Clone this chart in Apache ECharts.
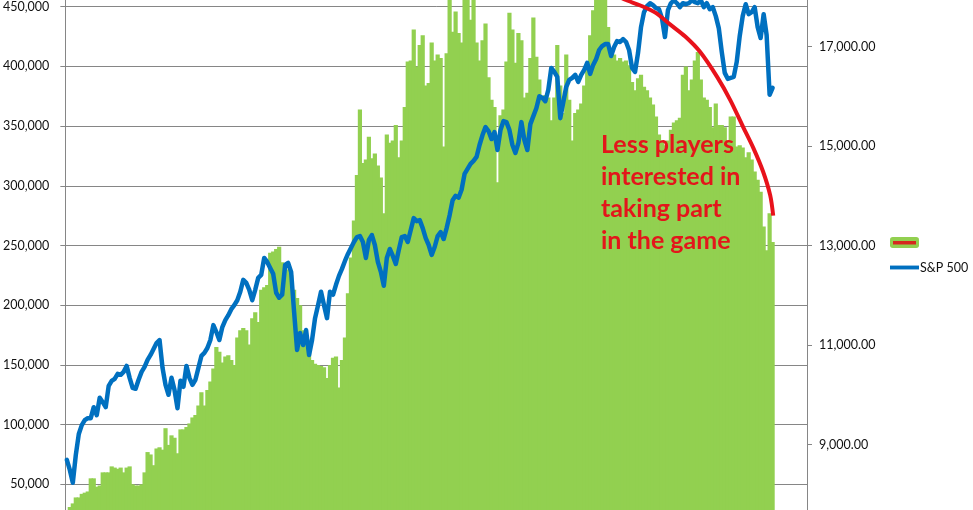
<!DOCTYPE html>
<html>
<head>
<meta charset="utf-8">
<script src="https://cdn.jsdelivr.net/npm/echarts@6/dist/echarts.min.js"></script>
<style>
html,body{margin:0;padding:0;background:#fff;overflow:hidden;width:973px;height:510px;}
#chart{position:absolute;left:0;top:-60px;width:973px;height:650px;}
</style>
</head>
<body>
<div id="chart"></div>
<script>
// weekly categories (axis labels fall below the visible area)
const categories = Array.from({length: 248}, (_, i) => 'Week ' + (i + 1));

// number of players per week (left axis)
const players = [
  24000,31000,34000,39000,39000,42000,43000,44000,55000,55000,
  48000,49000,60000,60000,60000,65000,64000,63000,64000,60000,
  64000,65000,50000,49000,49000,50000,60000,77000,75000,66000,
  80000,81000,79000,97000,83000,91000,89000,76000,96000,96000,
  98000,101000,106000,108000,116000,127000,116000,129000,136000,147000,
  165000,161000,152000,157000,158000,154000,150000,173000,179000,181000,
  179000,167000,189000,194000,186000,213000,215000,217000,244000,245000,
  247000,249000,236000,232000,230000,225000,213000,206000,200000,179000,
  173000,161000,154000,151000,150000,149000,148000,139000,150000,156000,
  157000,131000,154000,173000,210000,240000,271000,309000,364000,319000,
  322000,341000,323000,327000,317000,307000,277000,343000,336000,338000,
  351000,324000,338000,366000,404000,405000,431000,400000,418000,426000,
  384000,386000,420000,405000,410000,407000,333000,411000,460000,429000,
  446000,428000,420000,460000,456000,439000,458000,420000,405000,422000,
  436000,391000,372000,366000,303000,359000,364000,404000,445000,431000,
  403000,428000,422000,374000,378000,407000,441000,408000,389000,374000,
  376000,374000,355000,374000,418000,384000,361000,410000,372000,338000,
  361000,364000,369000,384000,400000,426000,447000,460000,460000,460000,
  456000,433000,414000,410000,405000,407000,404000,405000,401000,387000,
  380000,390000,393000,383000,380000,374000,368000,358000,343000,338000,
  334000,338000,347000,353000,355000,357000,393000,400000,380000,389000,
  405000,412000,389000,374000,372000,366000,349000,369000,351000,351000,
  349000,338000,358000,358000,333000,334000,332000,324000,328000,322000,
  312000,305000,295000,266000,246000,277000,253000
];

// S&P 500 series (right axis)
const sp500 = [
  8690,8490,8230,8790,9210,9390,9490,9530,9530,9750,
  9590,9940,9850,9750,10180,10280,10320,10420,10400,10460,
  10580,10340,10140,10120,10300,10460,10560,10700,10800,10920,
  11040,11100,10540,10200,10000,10340,10100,9730,10280,10160,
  10580,10340,10200,10300,10540,10780,10840,10940,11100,11400,
  11260,11100,11360,11500,11600,11720,11800,11900,12070,12310,
  12250,12110,11900,12110,12350,12410,12750,12670,12550,12430,
  12050,11950,12010,12610,12650,12470,11660,10900,11240,11000,
  11300,10800,11100,11540,11800,12070,11800,11540,12070,12010,
  12210,12390,12530,12690,12830,12950,13070,13170,13190,13070,
  12750,13110,13210,13010,12670,12470,12190,12750,12930,12790,
  12630,12910,13170,13190,13070,13310,13550,13490,13510,13350,
  13150,13010,12810,12970,13190,13270,13130,13350,13610,13910,
  14000,13960,14120,14440,14540,14640,14700,14780,15020,15220,
  15380,15300,15140,15280,14920,15320,15500,15480,15320,15020,
  14860,15060,15480,15120,14920,15440,15600,15760,16000,15970,
  15900,16130,16570,16490,16390,15560,15880,16190,16330,16370,
  16430,16290,16430,16530,16670,16450,16630,16750,16930,17010,
  17050,17050,16810,16990,17110,17090,17150,17090,16930,16570,
  16490,16870,17390,17690,17810,17870,17830,17770,17750,17570,
  17190,17730,17870,17930,17870,17790,17870,17850,17870,17930,
  17890,17870,17930,17790,17870,17750,17790,17610,17370,16890,
  16470,16350,16370,16390,16690,17210,17610,17850,17650,17690,
  17790,17390,17170,17650,17230,16030,16170
];

// red hand-drawn trend arc (position along weeks, players scale)
const curveWeek = [183, 187, 192.3, 197.3, 202.3, 207.3, 212.3, 218, 222.3, 226.7, 230, 233.3, 235.7, 236.7];
const curveValue = [461000, 456000, 451000, 445000, 435000, 425000, 412000, 391000, 372000, 349000, 332000, 312000, 292000, 275000];

// tick labels
const leftTicks = {min: 0, max: 500000, interval: 50000};
const rightTickValues = [9000, 11000, 13000, 15000, 17000];

const annotation = 'Less players\ninterested in\ntaking part\nin the game';

const chart = echarts.init(document.getElementById('chart'), null, {renderer: 'canvas'});
const FONT = 'Lato, "Open Sans", sans-serif';
const gray = '#868686';
const OFF = 60; // the chart canvas starts 60px above the visible page

chart.setOption({
  animation: false,
  backgroundColor: '#fff',
  textStyle: {fontFamily: FONT},
  grid: {left: 63, right: 166, top: OFF - 53, bottom: 46, containLabel: false},
  legend: [
    {
      data: [{name: 'Players', icon: 'roundRect'}],
      left: 890, top: OFF + 237, itemWidth: 29, itemHeight: 11, padding: 0,
      formatter: () => '',
      selectedMode: false,
      textStyle: {fontSize: 12, color: '#000'}
    },
    {
      data: [{name: 'S&P 500', icon: 'path://M0,0 L30,0 L30,4 L0,4 Z'}],
      left: 890, top: OFF + 261, itemWidth: 29, itemHeight: 4, itemGap: 0, padding: 0,
      selectedMode: false,
      textStyle: {fontSize: 12.5, color: '#111', padding: [0, 0, 0, -4]}
    }
  ],
  xAxis: [
    {
      type: 'category', data: categories, boundaryGap: true,
      axisLine: {show: false}, axisTick: {show: false}, axisLabel: {show: false}
    },
    {
      type: 'value', min: 0, max: categories.length, show: false
    }
  ],
  yAxis: [
    {
      type: 'value', min: leftTicks.min, max: leftTicks.max, interval: leftTicks.interval,
      position: 'left',
      axisLine: {show: true, lineStyle: {color: gray, width: 1}},
      axisTick: {show: true, inside: false, length: 5, lineStyle: {color: gray}},
      splitLine: {show: true, lineStyle: {color: gray, width: 1}},
      axisLabel: {
        margin: 16, color: '#111', fontSize: 12.5, fontFamily: FONT,
        formatter: v => v.toLocaleString('en-US')
      }
    },
    {
      type: 'value', min: 7000, max: 19000, position: 'right',
      axisLine: {show: true, lineStyle: {color: gray, width: 1}},
      axisTick: {show: true, inside: false, length: 5, lineStyle: {color: gray}, customValues: rightTickValues},
      splitLine: {show: false},
      axisLabel: {
        margin: 12, color: '#111', fontSize: 12.5, fontFamily: FONT,
        customValues: rightTickValues,
        formatter: v => v.toLocaleString('en-US', {minimumFractionDigits: 2, maximumFractionDigits: 2})
      }
    }
  ],
  series: [
    {
      name: 'Players', type: 'bar', data: players,
      xAxisIndex: 0, yAxisIndex: 0,
      barWidth: 4.2,
      itemStyle: {color: '#92D050'},
      z: 2
    },
    {
      name: 'S&P 500', type: 'line', data: sp500,
      xAxisIndex: 0, yAxisIndex: 1,
      showSymbol: false, symbol: 'none',
      lineStyle: {color: '#0070C0', width: 4.5, join: 'round', cap: 'round'},
      itemStyle: {color: '#0070C0'},
      z: 3
    },
    {
      name: 'trend', type: 'line',
      xAxisIndex: 1, yAxisIndex: 0,
      data: curveWeek.map((w, i) => [w, curveValue[i]]),
      smooth: 0.3, showSymbol: false, symbol: 'none',
      lineStyle: {color: '#E8121B', width: 4},
      z: 4
    }
  ],
  graphic: [
    {
      type: 'rect', z: 100,
      shape: {x: 893, y: OFF + 241, width: 23, height: 3.5},
      style: {fill: '#D6281E'}
    },
    {
      type: 'text', z: 100, left: 601, top: OFF + 129,
      style: {
        text: annotation,
        font: 'bold 25px ' + FONT,
        fill: '#E3161B',
        lineHeight: 32
      }
    }
  ]
});
</script>
</body>
</html>
